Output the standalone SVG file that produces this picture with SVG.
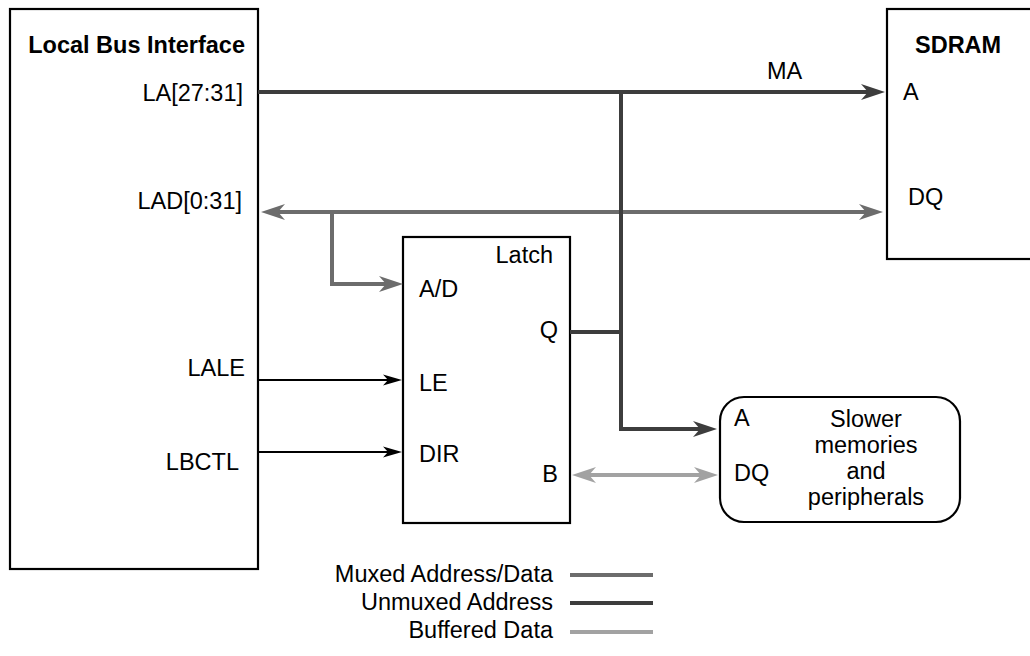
<svg xmlns="http://www.w3.org/2000/svg" width="1030" height="656" viewBox="0 0 1030 656">
<style>
  text { font-family: "Liberation Sans", Arial, Helvetica, sans-serif; font-size: 23.5px; fill: #000; }
  .b { font-weight: bold; }
  .e { text-anchor: end; }
  .m { text-anchor: middle; }
  .box { fill: #fff; stroke: #000; stroke-width: 2.2; }
  .w { fill: none; stroke-linejoin: miter; stroke-linecap: butt; }
  .dk { stroke: #3d3d3d; stroke-width: 4; }
  .md { stroke: #6c6c6c; stroke-width: 4; }
  .lt { stroke: #a2a2a2; stroke-width: 4; }
  .th { stroke: #000; stroke-width: 2.2; }
</style>
<defs>
  <marker id="aDk" markerUnits="userSpaceOnUse" markerWidth="30" markerHeight="20" viewBox="0 -10 30 20" refX="14" refY="0" orient="auto-start-reverse">
    <path d="M0,-8 L24,0 L0,8 L7,0 Z" fill="#3d3d3d"/>
  </marker>
  <marker id="aMd" markerUnits="userSpaceOnUse" markerWidth="30" markerHeight="20" viewBox="0 -10 30 20" refX="14" refY="0" orient="auto-start-reverse">
    <path d="M0,-8 L24,0 L0,8 L7,0 Z" fill="#6c6c6c"/>
  </marker>
  <marker id="aLt" markerUnits="userSpaceOnUse" markerWidth="30" markerHeight="20" viewBox="0 -10 30 20" refX="14" refY="0" orient="auto-start-reverse">
    <path d="M0,-8 L24,0 L0,8 L7,0 Z" fill="#a2a2a2"/>
  </marker>
  <marker id="aTh" markerUnits="userSpaceOnUse" markerWidth="24" markerHeight="14" viewBox="0 -7 24 14" refX="10" refY="0" orient="auto">
    <path d="M0,-5.5 L19,0 L0,5.5 L5,0 Z" fill="#000"/>
  </marker>
</defs>

<g id="local-bus-interface">
  <rect class="box" x="10" y="9" width="248" height="560"/>
  <text class="b e" x="245" y="53">Local Bus Interface</text>
  <text class="e" x="243" y="101">LA[27:31]</text>
  <text class="e" x="242" y="209">LAD[0:31]</text>
  <text class="e" x="245" y="376">LALE</text>
  <text class="e" x="239" y="470">LBCTL</text>
</g>

<g id="sdram">
  <rect class="box" x="887" y="9" width="150" height="250"/>
  <text class="b" x="915" y="53">SDRAM</text>
  <text x="903" y="100">A</text>
  <text x="908" y="205">DQ</text>
</g>

<g id="latch">
  <rect class="box" x="403" y="237" width="167" height="286"/>
  <text class="e" x="553" y="263">Latch</text>
  <text x="419" y="297">A/D</text>
  <text class="e" x="558" y="338">Q</text>
  <text x="419" y="391">LE</text>
  <text x="419" y="462">DIR</text>
  <text class="e" x="558" y="482">B</text>
</g>

<g id="slower-memories">
  <rect class="box" x="720" y="397" width="240" height="125" rx="24" ry="24"/>
  <text x="734" y="426">A</text>
  <text x="734" y="481">DQ</text>
  <text class="m" x="866" y="427">Slower</text>
  <text class="m" x="866" y="453">memories</text>
  <text class="m" x="866" y="479">and</text>
  <text class="m" x="866" y="505">peripherals</text>
</g>

<g id="connectors">
  <path class="w md" d="M271,212 H873" marker-start="url(#aMd)" marker-end="url(#aMd)"/>
  <path class="w md" d="M332,212 V284 H393" marker-end="url(#aMd)"/>
  <path class="w dk" d="M258,92 H875" marker-end="url(#aDk)"/>
  <path class="w dk" d="M621,92 V429 H707" marker-end="url(#aDk)"/>
  <path class="w dk" d="M570,332 H621"/>
  <path class="w th" d="M258,380 H393" marker-end="url(#aTh)"/>
  <path class="w th" d="M258,452 H393" marker-end="url(#aTh)"/>
  <path class="w lt" d="M582,475 H708" marker-start="url(#aLt)" marker-end="url(#aLt)"/>
  <text x="767" y="79">MA</text>
</g>

<g id="legend">
  <text class="e" x="553" y="582">Muxed Address/Data</text>
  <text class="e" x="553" y="610">Unmuxed Address</text>
  <text class="e" x="553" y="638">Buffered Data</text>
  <path class="w md" d="M570,575 H653"/>
  <path class="w dk" d="M570,603 H653"/>
  <path class="w lt" d="M570,632 H653"/>
</g>
</svg>
